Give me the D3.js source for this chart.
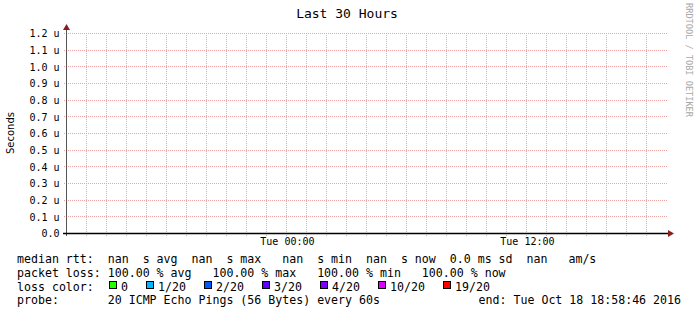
<!DOCTYPE html>
<html>
<head>
<meta charset="utf-8">
<script src="https://cdn.jsdelivr.net/npm/d3@7"></script>
<style>
  html, body { margin: 0; padding: 0; background: #fff; }
  svg { display: block; }
  text { font-family: "DejaVu Sans Mono", monospace; fill: #000; }
</style>
</head>
<body>
<div id="chart"></div>
<script>
// Chart values
const title = "Last 30 Hours";
const yLabel = "Seconds";
const sideNote = "RRDTOOL / TOBI OETIKER";
const yTickValues = [0, 0.1e-6, 0.2e-6, 0.3e-6, 0.4e-6, 0.5e-6, 0.6e-6, 0.7e-6, 0.8e-6, 0.9e-6, 1.0e-6, 1.1e-6, 1.2e-6];
const yTickLabels = ["0.0", "0.1 u", "0.2 u", "0.3 u", "0.4 u", "0.5 u", "0.6 u", "0.7 u", "0.8 u", "0.9 u", "1.0 u", "1.1 u", "1.2 u"];
const endTime = new Date(2016, 9, 18, 18, 58, 46);
const spanHours = 30;
const xLabelTimes = [new Date(2016, 9, 18, 0, 0), new Date(2016, 9, 18, 12, 0)];
const legendRtt = "median rtt:  nan  s avg  nan  s max   nan  s min  nan  s now  0.0 ms sd  nan   am/s";
const legendLoss = "packet loss: 100.00 % avg   100.00 % max   100.00 % min   100.00 % now";
const lossTitle = "loss color:";
const lossLabels = ["0", "1/20", "2/20", "3/20", "4/20", "10/20", "19/20"];
const lossColors = ["#26ff00", "#00b8ff", "#0059ff", "#5e00ff", "#7e00ff", "#dd00ff", "#ff0000"];
const probeLabel = "probe:       20 ICMP Echo Pings (56 Bytes) every 60s";
const endLabel = "end: Tue Oct 18 18:58:46 2016";

const width = 697;
const height = 315;
const plot = { left: 66, right: 666, top: 33, bottom: 233 };

const svg = d3.select("#chart").append("svg")
  .attr("width", width)
  .attr("height", height);

svg.append("rect").attr("width", width).attr("height", height).attr("fill", "#fff");

const startTime = new Date(endTime.getTime() - spanHours * 3600 * 1000);

const xScale = d3.scaleTime().domain([startTime, endTime]).range([plot.left, plot.right]);
const yScale = d3.scaleLinear().domain([0, 1.2e-6]).range([plot.bottom, plot.top]);

const gridG = svg.append("g").attr("shape-rendering", "crispEdges");

// minor vertical grid (hourly), major every 6 hours
const hours = d3.timeHour.range(startTime, endTime);
gridG.selectAll(".vgrid")
  .data(hours)
  .enter()
  .append("line")
  .attr("x1", (d) => Math.round(xScale(d)) + 0.5)
  .attr("x2", (d) => Math.round(xScale(d)) + 0.5)
  .attr("y1", plot.top)
  .attr("y2", plot.bottom + 3)
  .attr("stroke", (d) => (d.getHours() % 6 === 0 ? "#eba3a3" : "#bdbdbd"))
  .attr("stroke-dasharray", "1,1");

// horizontal grid
gridG.selectAll(".hgrid")
  .data(yTickValues.slice(1))
  .enter()
  .append("line")
  .attr("x1", plot.left - 2)
  .attr("x2", plot.right + 2)
  .attr("y1", (d) => Math.round(yScale(d)) + 0.5)
  .attr("y2", (d) => Math.round(yScale(d)) + 0.5)
  .attr("stroke", "#eba3a3")
  .attr("stroke-dasharray", "1,1");

// y axis
const yAxis = d3.axisLeft(yScale)
  .tickValues(yTickValues)
  .tickFormat((d, i) => yTickLabels[i])
  .tickSize(0)
  .tickPadding(7);

const yAxisG = svg.append("g")
  .attr("transform", `translate(${plot.left + 0.5},0.5)`)
  .call(yAxis);
yAxisG.select(".domain").remove();
yAxisG.selectAll("text")
  .attr("font-family", "DejaVu Sans Mono")
  .style("font-size", "10px")
  .attr("fill", "#000");

svg.append("line")
  .attr("x1", plot.left + 0.5)
  .attr("x2", plot.left + 0.5)
  .attr("y1", plot.top - 5)
  .attr("y2", plot.bottom + 3)
  .attr("stroke", "#555")
  .attr("shape-rendering", "crispEdges");

// x axis
const xAxis = d3.axisBottom(xScale)
  .tickValues(xLabelTimes)
  .tickFormat(d3.timeFormat("%a %H:%M"))
  .tickSize(0)
  .tickPadding(5);

const xAxisG = svg.append("g")
  .attr("transform", `translate(0.5,${plot.bottom})`)
  .call(xAxis);
xAxisG.select(".domain").remove();
xAxisG.selectAll("text")
  .attr("font-family", "DejaVu Sans Mono")
  .style("font-size", "10px")
  .attr("fill", "#000");

svg.append("line")
  .attr("x1", plot.left - 3)
  .attr("x2", plot.right + 3)
  .attr("y1", plot.bottom + 0.5)
  .attr("y2", plot.bottom + 0.5)
  .attr("stroke", "#000")
  .attr("stroke-width", 1.6);

// arrows
svg.append("path")
  .attr("d", `M${plot.right + 2},${plot.bottom - 3}L${plot.right + 8},${plot.bottom + 0.5}L${plot.right + 2},${plot.bottom + 4}Z`)
  .attr("fill", "#8b1c1c");
svg.append("path")
  .attr("d", `M${plot.left - 3},${plot.top - 3}L${plot.left + 0.5},${plot.top - 9}L${plot.left + 4},${plot.top - 3}Z`)
  .attr("fill", "#8b1c1c");

// title
svg.append("text")
  .attr("x", 347)
  .attr("y", 18)
  .attr("text-anchor", "middle")
  .style("font-size", "13px")
  .text(title);

// y label
svg.append("text")
  .attr("transform", `translate(14,${(plot.top + plot.bottom) / 2}) rotate(-90)`)
  .attr("text-anchor", "middle")
  .style("font-family", "DejaVu Sans")
  .style("font-size", "10px")
  .text(yLabel);

// side note
svg.append("text")
  .attr("transform", "translate(685.5,60) rotate(90)")
  .attr("text-anchor", "middle")
  .style("font-size", "8.6px")
  .style("fill", "#a8a8a8")
  .text(sideNote);

// legend
const charW = 7;
const legendX = 17;
const fontLegend = "11.6px";
const rowY = [263, 277, 291, 304];

const legendG = svg.append("g").style("font-size", fontLegend).attr("xml:space", "preserve");

legendG.append("text").attr("x", legendX).attr("y", rowY[0]).style("white-space", "pre").text(legendRtt);
legendG.append("text").attr("x", legendX).attr("y", rowY[1]).style("white-space", "pre").text(legendLoss);
legendG.append("text").attr("x", legendX).attr("y", rowY[2]).style("white-space", "pre").text(lossTitle);
legendG.append("text").attr("x", legendX).attr("y", rowY[3]).style("white-space", "pre").text(probeLabel);
legendG.append("text").attr("x", 681).attr("y", rowY[3]).attr("text-anchor", "end").text(endLabel);

// loss colour boxes
let itemX = legendX + 13 * charW - 1 + 2;
const items = lossLabels.map((label, i) => {
  const x = itemX;
  itemX += 30 + label.length * charW;
  return { label, color: lossColors[i], x };
});

const itemG = legendG.selectAll(".loss-item")
  .data(items)
  .enter()
  .append("g");

itemG.append("rect")
  .attr("x", (d) => d.x + 0.5)
  .attr("y", rowY[2] - 9.5)
  .attr("width", 7)
  .attr("height", 7)
  .attr("fill", (d) => d.color)
  .attr("stroke", "#000")
  .attr("stroke-width", 1.2)
  .attr("shape-rendering", "crispEdges");

itemG.append("text")
  .attr("x", (d) => d.x + 12)
  .attr("y", rowY[2])
  .text((d) => d.label);
</script>
</body>
</html>
